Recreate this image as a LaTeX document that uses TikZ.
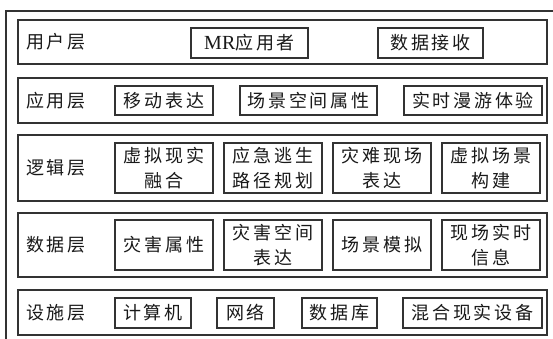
\documentclass[tikz,border=0pt]{standalone}
\usepackage{fontspec}
\setmainfont{Liberation Serif}
\newfontfamily\cjk[LetterSpace=15]{Noto Sans CJK SC}
\begin{document}
\begin{tikzpicture}[x=1pt,y=-1pt,
  frame/.style={draw=black!80, line width=1.1pt},
  layerbox/.style={frame, inner sep=0pt, minimum width=529pt},
  item/.style={frame, inner sep=0pt, align=center, text=black!90,
    font=\cjk\fontsize{18}{25}\selectfont},
  lab/.style={anchor=west, inner sep=0pt, text=black!90,
    font=\cjk\fontsize{18}{25}\selectfont}]
\useasboundingbox (0,0) rectangle (553,338);
\clip (0,0) rectangle (553,338);
\fill[white] (0,0) rectangle (553,338);
% outer frame (cut off at right and bottom)
\draw[frame] (6,11) rectangle (580,360);
% layers
\node[layerbox, minimum height=44pt] (L1) at (282.5,42) {};
\node[layerbox, minimum height=45pt] (L2) at (282.5,100.5) {};
\node[layerbox, minimum height=66pt] (L3) at (282.5,168) {};
\node[layerbox, minimum height=64pt] (L4) at (282.5,245) {};
\node[layerbox, minimum height=45pt] (L5) at (282.5,312.5) {};
% labels
\node[lab] (t1) at (26,42) {用户层};
\node[lab] (t2) at (26,100.5) {应用层};
\node[lab] (t3) at (26,168) {逻辑层};
\node[lab] (t4) at (26,245) {数据层};
\node[lab] (t5) at (26,312.5) {设施层};
% user layer
\node[item, minimum width=117pt, minimum height=30pt] (u1) at (249.5,43) {{\fontspec{Liberation Serif}\fontsize{20}{22}\selectfont MR}应用者};
\node[item, minimum width=105pt, minimum height=30pt] (u2) at (430.5,43) {数据接收};
% application layer
\node[item, minimum width=98pt, minimum height=29pt] (a1) at (164,100.5) {移动表达};
\node[item, minimum width=137pt, minimum height=29pt] (a2) at (308.5,100.5) {场景空间属性};
\node[item, minimum width=138pt, minimum height=29pt] (a3) at (473,100.5) {实时漫游体验};
% logic layer
\node[item, minimum width=98pt, minimum height=50pt] (g1) at (164,168) {虚拟现实\\融合};
\node[item, minimum width=98pt, minimum height=50pt] (g2) at (273,168) {应急逃生\\路径规划};
\node[item, minimum width=98pt, minimum height=50pt] (g3) at (382,168) {灾难现场\\表达};
\node[item, minimum width=98pt, minimum height=50pt] (g4) at (491,168) {虚拟场景\\构建};
% data layer
\node[item, minimum width=98pt, minimum height=50pt] (d1) at (164,245) {灾害属性};
\node[item, minimum width=98pt, minimum height=50pt] (d2) at (273,245) {灾害空间\\表达};
\node[item, minimum width=98pt, minimum height=50pt] (d3) at (382,245) {场景模拟};
\node[item, minimum width=98pt, minimum height=50pt] (d4) at (491,245) {现场实时\\信息};
% infrastructure layer
\node[item, minimum width=76pt, minimum height=30pt] (f1) at (153,313) {计算机};
\node[item, minimum width=57pt, minimum height=30pt] (f2) at (245.5,313) {网络};
\node[item, minimum width=75pt, minimum height=30pt] (f3) at (339.5,313) {数据库};
\node[item, minimum width=139pt, minimum height=30pt] (f4) at (472.5,313) {混合现实设备};
\end{tikzpicture}
\end{document}
